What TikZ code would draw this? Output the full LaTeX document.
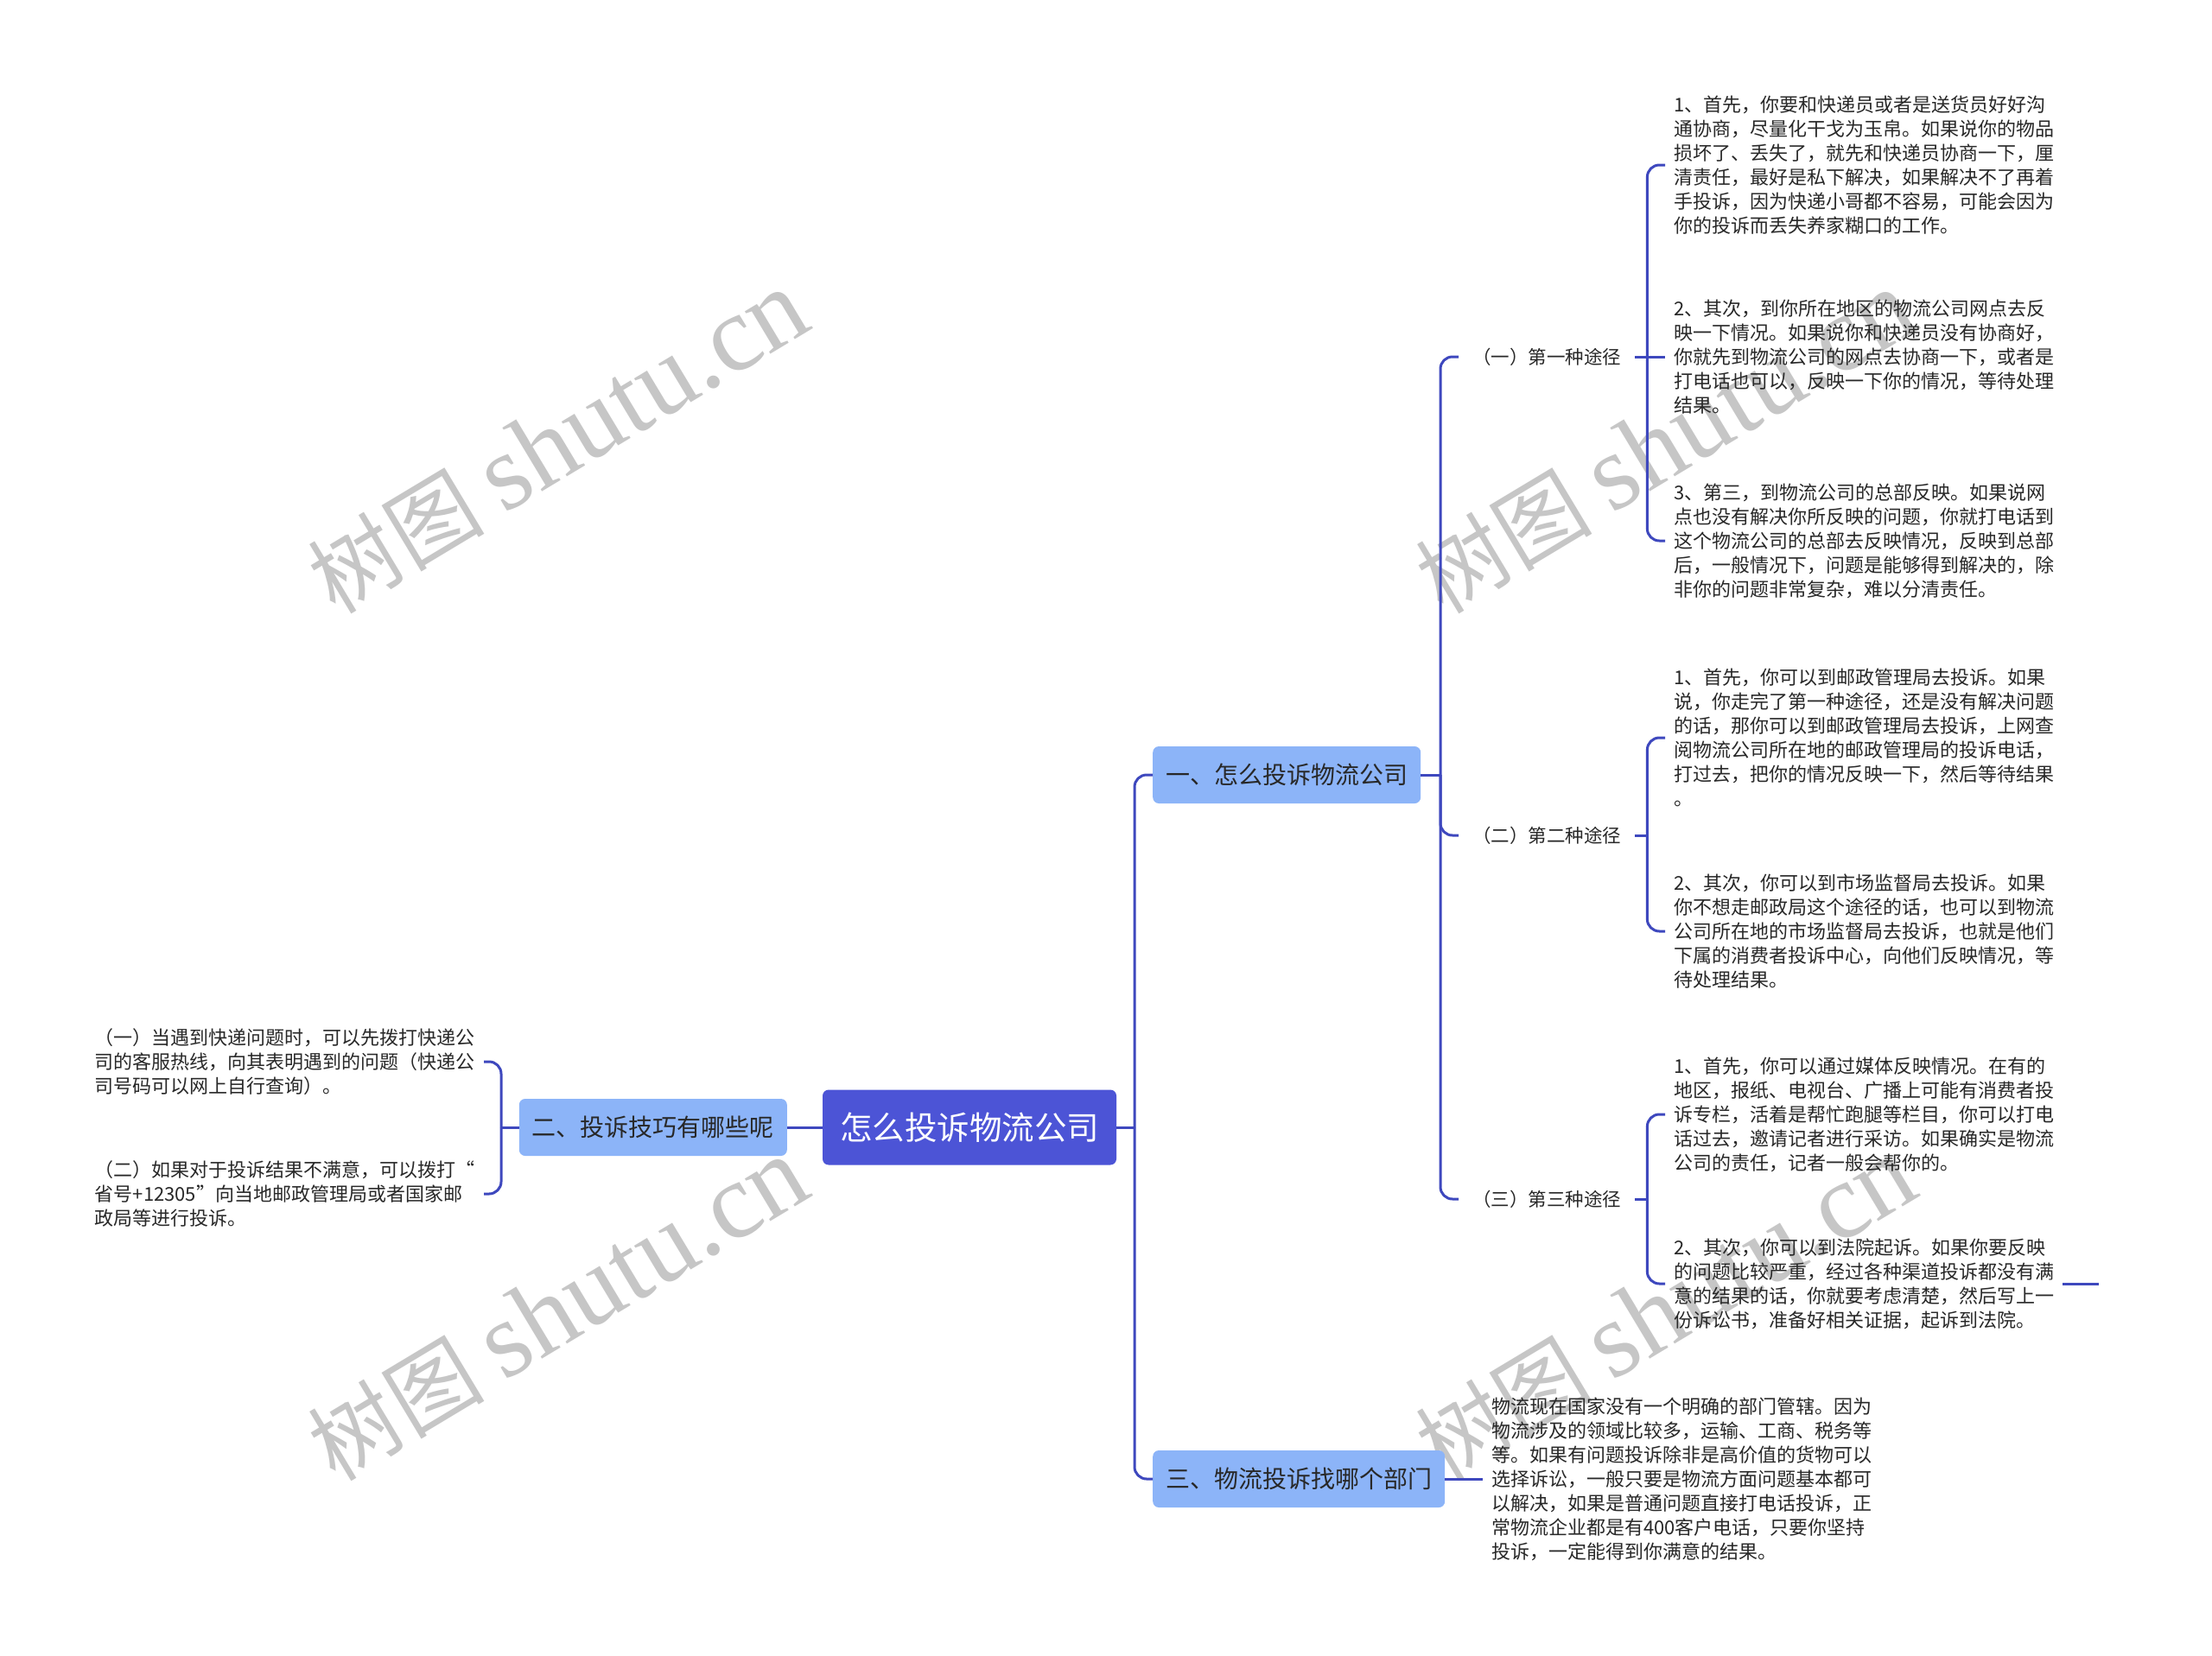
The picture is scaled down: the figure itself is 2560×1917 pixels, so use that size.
\documentclass[tikz,border=0pt]{standalone}
\usepackage{fontspec}
\setmainfont{Noto Sans CJK SC}
\newfontfamily\wmlatin{Liberation Serif}
\usepackage{tikz}
\definecolor{rootblue}{RGB}{76,84,214}
\definecolor{topicblue}{RGB}{140,180,248}
\definecolor{linkblue}{RGB}{62,72,190}
\definecolor{inkgray}{RGB}{40,40,40}

\begin{document}
\begin{tikzpicture}[x=1pt, y=-1pt,
    link/.style={draw=linkblue, line width=3pt, rounded corners=14pt},
    rootbox/.style={fill=rootblue, rounded corners=7pt, text=white, font=\fontsize{37.5}{42}\selectfont, minimum height=87pt, inner xsep=20pt},
    topicbox/.style={fill=topicblue, rounded corners=7pt, text=inkgray, font=\fontsize{28}{32}\selectfont, minimum height=66pt, inner xsep=15pt},
    waylabel/.style={text=inkgray, font=\fontsize{21.5}{26}\selectfont, inner xsep=16pt},
    leaftext/.style={text=inkgray, align=left, font=\fontsize{22}{28}\selectfont, inner xsep=10pt, inner ysep=0pt},
    wmark/.style={text=gray!45, rotate=31, inner sep=0pt}
]
    \fill[white] (0,0) rectangle (2560,1917);
    \useasboundingbox (0,0) rectangle (2560,1917);

    % watermarks
    \foreach \wx/\wy in {646/512, 1928/512, 646/1516, 1928/1516}
        \node[wmark] at (\wx,\wy) {\fontsize{102}{110}\selectfont 树图 {\wmlatin\fontsize{125}{130}\selectfont shutu.cn}};

    \node[rootbox] (root) at (1122,1305) {怎么投诉物流公司};
    \node[topicbox, anchor=west] (t1) at (1334,897) {一、怎么投诉物流公司};
    \node[topicbox, anchor=east] (t2) at (911,1305) {二、投诉技巧有哪些呢};
    \node[topicbox, anchor=west] (t3) at (1334,1712) {三、物流投诉找哪个部门};

    \node[waylabel, anchor=west] (w1) at (1688,413) {（一）第一种途径};
    \node[waylabel, anchor=west] (w2) at (1688,967) {（二）第二种途径};
    \node[waylabel, anchor=west] (w3) at (1688,1388) {（三）第三种途径};

    \node[leaftext, anchor=west] (l11) at (1927,191) {1、首先，你要和快递员或者是送货员好好沟\\通协商，尽量化干戈为玉帛。如果说你的物品\\损坏了、丢失了，就先和快递员协商一下，厘\\清责任，最好是私下解决，如果解决不了再着\\手投诉，因为快递小哥都不容易，可能会因为\\你的投诉而丢失养家糊口的工作。};
    \node[leaftext, anchor=west] (l12) at (1927,413) {2、其次，到你所在地区的物流公司网点去反\\映一下情况。如果说你和快递员没有协商好，\\你就先到物流公司的网点去协商一下，或者是\\打电话也可以，反映一下你的情况，等待处理\\结果。};
    \node[leaftext, anchor=west] (l13) at (1927,626) {3、第三，到物流公司的总部反映。如果说网\\点也没有解决你所反映的问题，你就打电话到\\这个物流公司的总部去反映情况，反映到总部\\后，一般情况下，问题是能够得到解决的，除\\非你的问题非常复杂，难以分清责任。};
    \node[leaftext, anchor=west] (l21) at (1927,854) {1、首先，你可以到邮政管理局去投诉。如果\\说，你走完了第一种途径，还是没有解决问题\\的话，那你可以到邮政管理局去投诉，上网查\\阅物流公司所在地的邮政管理局的投诉电话，\\打过去，把你的情况反映一下，然后等待结果\\。};
    \node[leaftext, anchor=west] (l22) at (1927,1078) {2、其次，你可以到市场监督局去投诉。如果\\你不想走邮政局这个途径的话，也可以到物流\\公司所在地的市场监督局去投诉，也就是他们\\下属的消费者投诉中心，向他们反映情况，等\\待处理结果。};
    \node[leaftext, anchor=west] (l31) at (1927,1290) {1、首先，你可以通过媒体反映情况。在有的\\地区，报纸、电视台、广播上可能有消费者投\\诉专栏，活着是帮忙跑腿等栏目，你可以打电\\话过去，邀请记者进行采访。如果确实是物流\\公司的责任，记者一般会帮你的。};
    \node[leaftext, anchor=west] (l32) at (1927,1486) {2、其次，你可以到法院起诉。如果你要反映\\的问题比较严重，经过各种渠道投诉都没有满\\意的结果的话，你就要考虑清楚，然后写上一\\份诉讼书，准备好相关证据，起诉到法院。};
    \node[leaftext, anchor=west] (l3) at (1716,1712) {物流现在国家没有一个明确的部门管辖。因为\\物流涉及的领域比较多，运输、工商、税务等\\等。如果有问题投诉除非是高价值的货物可以\\选择诉讼，一般只要是物流方面问题基本都可\\以解决，如果是普通问题直接打电话投诉，正\\常物流企业都是有400客户电话，只要你坚持\\投诉，一定能得到你满意的结果。};
    \node[leaftext, anchor=east] (ll1) at (560,1229) {（一）当遇到快递问题时，可以先拨打快递公\\司的客服热线，向其表明遇到的问题（快递公\\司号码可以网上自行查询）。};
    \node[leaftext, anchor=east] (ll2) at (560,1382) {（二）如果对于投诉结果不满意，可以拨打“\\省号+12305”向当地邮政管理局或者国家邮\\政局等进行投诉。};

    % junctions
    \coordinate (jr) at (1313,1305);
    \coordinate (j1) at (1667,897);
    \coordinate (j2) at (580,1305);
    \coordinate (k1) at ([xshift=14pt]w1.east);
    \coordinate (k2) at ([xshift=14pt]w2.east);
    \coordinate (k3) at ([xshift=14pt]w3.east);
    \coordinate (l32tail) at (2429,1486);

    \draw[link] (root.east) -- (jr);
    \draw[link] (jr) |- (t1.west);
    \draw[link] (jr) |- (t3.west);
    \draw[link] (root.west) -- (t2.east);

    \draw[link] (t2.west) -- (j2);
    \draw[link] (j2) |- (ll1.east);
    \draw[link] (j2) |- (ll2.east);

    \draw[link] (t1.east) -- (j1);
    \foreach \w in {w1,w2,w3}
        \draw[link] (j1) |- (\w.west);

    \draw[link] (w1.east) -- (k1);
    \draw[link] (k1) |- (l11.west);
    \draw[link] (k1) -- (l12.west);
    \draw[link] (k1) |- (l13.west);
    \draw[link] (w2.east) -- (k2);
    \draw[link] (k2) |- (l21.west);
    \draw[link] (k2) |- (l22.west);
    \draw[link] (w3.east) -- (k3);
    \draw[link] (k3) |- (l31.west);
    \draw[link] (k3) |- (l32.west);
    \draw[link] (l32.east) -- (l32tail);

    \draw[link] (t3.east) -- (l3.west);
\end{tikzpicture}
\end{document}
